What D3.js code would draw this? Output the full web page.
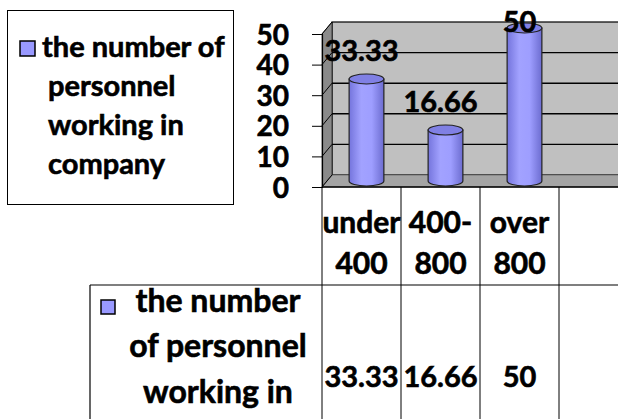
<!DOCTYPE html>
<html>
<head>
<meta charset="utf-8">
<script src="https://cdn.jsdelivr.net/npm/d3@7"></script>
<style>
  html, body { margin: 0; padding: 0; background: #fff; }
  svg { display: block; }
  text { font-family: Lato, "Open Sans", sans-serif; font-weight: bold; fill: #000; stroke: #000; stroke-width: 0.6px; }
</style>
</head>
<body>
<div id="chart"></div>
<script>
// data
const categories = ["under 400", "400-800", "over 800", ""];
const categoryLines = [["under", "400"], ["400-", "800"], ["over", "800"], []];
const values = [33.33, 16.66, 50];
const seriesName = "the number of personnel working in company";
const legendLines = ["the number of", "personnel", "working in", "company"];
const tableLegendLines = ["the number", "of personnel", "working in"];
const yTicks = [0, 10, 20, 30, 40, 50];

const W = 618, H = 419;
const FS = 29;

const svg = d3.select("#chart").append("svg")
  .attr("width", W).attr("height", H);

const x0 = 322, colW = 79;
const x = d3.scaleBand().domain(categories).range([x0, x0 + colW * categories.length]);
const y = d3.scaleLinear().domain([0, 50]).range([187, 34]);
const dx = 10, dy = -12;   // 3d depth
const xEnd = W + 2;

// gradient for the cylinders
const defs = svg.append("defs");
const grad = defs.append("linearGradient").attr("id", "cyl").attr("x1", "0").attr("x2", "1").attr("y1", "0").attr("y2", "0");
grad.append("stop").attr("offset", "0%").attr("stop-color", "#7474dc");
grad.append("stop").attr("offset", "35%").attr("stop-color", "#a2a2ff");
grad.append("stop").attr("offset", "65%").attr("stop-color", "#9e9eff");
grad.append("stop").attr("offset", "100%").attr("stop-color", "#6c6cd0");

/////////// walls
const g = svg.append("g");
g.append("rect")
  .attr("x", x0 + dx).attr("y", y(50) + dy)
  .attr("width", xEnd - x0 - dx).attr("height", y(0) - y(50))
  .attr("fill", "#c0c0c0").attr("stroke", "#000").attr("stroke-width", 1.2);

g.append("polygon")
  .attr("points", [[x0, y(50)], [x0 + dx, y(50) + dy], [x0 + dx, y(0) + dy], [x0, y(0)]].join(" "))
  .attr("fill", "#8a8a8a").attr("stroke", "#000").attr("stroke-width", 0.6);

g.append("polygon")
  .attr("points", [[x0, y(0)], [x0 + dx, y(0) + dy], [xEnd, y(0) + dy], [xEnd, y(0)]].join(" "))
  .attr("fill", "#a4a4a4").attr("stroke", "#555").attr("stroke-width", 0.6);

// gridlines on back wall + side wall
yTicks.filter(t => t > 0 && t < 50).forEach(t => {
  g.append("line")
    .attr("x1", x0 + dx).attr("x2", xEnd)
    .attr("y1", y(t) + dy).attr("y2", y(t) + dy)
    .attr("stroke", "#000").attr("stroke-width", 1.4);
});
yTicks.forEach(t => {
  g.append("line")
    .attr("x1", x0).attr("x2", x0 + dx)
    .attr("y1", y(t)).attr("y2", y(t) + dy)
    .attr("stroke", "#000").attr("stroke-width", 1);
});

// y axis
const yAxis = d3.axisLeft(y).tickValues(yTicks).tickSize(10).tickPadding(23).tickFormat(d3.format("d"));
const ya = svg.append("g").attr("transform", "translate(" + x0 + ",0)").call(yAxis);
ya.select(".domain").attr("stroke", "#000").attr("stroke-width", 1.2);
ya.selectAll(".tick line").attr("stroke", "#000");
ya.selectAll(".tick text")
  .attr("font-size", 28).attr("font-family", "Lato, sans-serif").attr("font-weight", "bold")
  .attr("dy", "0.36em");

// front floor edge
svg.append("line")
  .attr("x1", x0).attr("x2", xEnd).attr("y1", y(0)).attr("y2", y(0))
  .attr("stroke", "#000").attr("stroke-width", 1.6);

/////////// cylinders
const bw = x.bandwidth() * 0.44, ry = 5;
values.forEach((v, i) => {
  const cx = x(categories[i]) + x.bandwidth() / 2 + dx / 2;
  const top = y(v) + dy / 2, base = y(0) + dy / 2;
  const l = cx - bw / 2, r = cx + bw / 2;
  const body = "M" + l + "," + top + " L" + l + "," + base +
    " A" + (bw / 2) + "," + ry + " 0 0 0 " + r + "," + base +
    " L" + r + "," + top + " Z";
  svg.append("path").attr("d", body)
    .attr("fill", "url(#cyl)").attr("stroke", "#222").attr("stroke-width", 1.2);
  svg.append("ellipse")
    .attr("cx", cx).attr("cy", top).attr("rx", bw / 2).attr("ry", ry)
    .attr("fill", "#8080e4").attr("stroke", "#222").attr("stroke-width", 1.2);
});

// data labels
values.forEach((v, i) => {
  const cx = x(categories[i]) + x.bandwidth() / 2;
  const by = Math.max(y(v) + dy / 2 - 18, 32);
  svg.append("text")
    .attr("x", cx).attr("y", by)
    .attr("text-anchor", "middle").attr("font-size", FS)
    .text(d3.format(".4~f")(v));
});

/////////// data table
const tableTop = 285, tableLeft = 90;
// column lines
categories.forEach(c => {
  svg.append("line")
    .attr("x1", x(c)).attr("x2", x(c)).attr("y1", y(0)).attr("y2", H)
    .attr("stroke", "#000").attr("stroke-width", 1);
});
svg.append("line")
  .attr("x1", tableLeft).attr("x2", xEnd).attr("y1", tableTop).attr("y2", tableTop)
  .attr("stroke", "#000").attr("stroke-width", 1.2);
svg.append("line")
  .attr("x1", tableLeft).attr("x2", tableLeft).attr("y1", tableTop).attr("y2", H)
  .attr("stroke", "#000").attr("stroke-width", 1.2);

// category header
categoryLines.forEach((lines, i) => {
  const cx = x(categories[i]) + x.bandwidth() / 2;
  lines.forEach((t, k) => {
    svg.append("text")
      .attr("x", cx).attr("y", 233 + k * 41)
      .attr("text-anchor", "middle").attr("font-size", 30)
      .text(t);
  });
});

// row header
svg.append("rect")
  .attr("x", 101).attr("y", 300).attr("width", 14).attr("height", 14)
  .attr("fill", "#9999ff").attr("stroke", "#000").attr("stroke-width", 1.5);
const rowY = [312, 357, 403];
tableLegendLines.forEach((t, k) => {
  svg.append("text")
    .attr("x", 218).attr("y", rowY[k])
    .attr("text-anchor", "middle").attr("font-size", 32)
    .text(t);
});
values.forEach((v, i) => {
  svg.append("text")
    .attr("x", x(categories[i]) + x.bandwidth() / 2).attr("y", 387)
    .attr("text-anchor", "middle").attr("font-size", FS)
    .text(d3.format(".4~f")(v));
});

/////////// legend
svg.append("rect")
  .attr("x", 7.5).attr("y", 10.5).attr("width", 226).attr("height", 194)
  .attr("fill", "#fff").attr("stroke", "#000").attr("stroke-width", 1);
svg.append("rect")
  .attr("x", 20).attr("y", 41).attr("width", 15).attr("height", 15)
  .attr("fill", "#9999ff").attr("stroke", "#000").attr("stroke-width", 1.5);
legendLines.forEach((t, k) => {
  svg.append("text")
    .attr("x", k === 0 ? 42 : 48).attr("y", 57 + k * 39)
    .attr("font-size", FS)
    .text(t);
});
</script>
</body>
</html>
